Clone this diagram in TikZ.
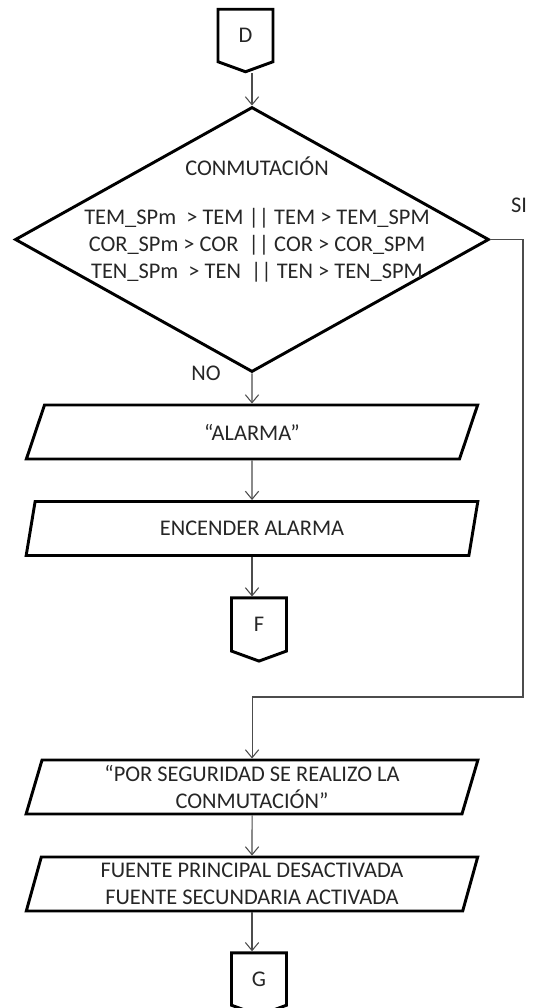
\documentclass[tikz,border=0pt]{standalone}
\usepackage{fontspec}
\setmainfont{Carlito}
\usetikzlibrary{shapes.geometric,shapes.symbols,arrows.meta}

\begin{document}
\begin{tikzpicture}[x=0.75pt,y=-0.75pt,
  font=\fontsize{16.8}{20.25}\selectfont,text=black!85,
  conn/.style={signal,signal to=south,signal from=nowhere,signal pointer angle=140,
    draw,line width=2.2pt,minimum width=55*0.75pt,minimum height=55*0.75pt,inner sep=0pt},
  decision/.style={diamond,draw,line width=2.2pt,minimum width=474*0.75pt,
    minimum height=265*0.75pt,inner sep=0pt},
  io/.style={trapezium,trapezium left angle=75.5,trapezium right angle=104.5,
    trapezium stretches=true,draw,line width=2.2pt,minimum width=452*0.75pt,
    minimum height=54*0.75pt,inner sep=0pt,align=center},
  flow/.style={draw=black!70,line width=0.8pt,-{Straight Barb[length=6pt,width=10pt]}}]
\useasboundingbox (0,0) rectangle (535,1008);

\node[conn] (D) at (245.5,35.5) {D};
\node[decision] (cond) at (252,239.5) {};
\node[align=center] (condtxt) at (257,219) {CONMUTACIÓN\\[16.5pt]
  TEM\_SPm~ > TEM || TEM > TEM\_SPM\\
  COR\_SPm > COR~ || COR > COR\_SPM\\
  TEN\_SPm~ > TEN~ || TEN > TEN\_SPM};
\node (si) at (519,205) {SI};
\node (no) at (206,373) {NO};
\node[io] (alarma) at (252,432) {“ALARMA”};
\node[io] (encender) at (252,528.5) {ENCENDER ALARMA};
\node[conn] (F) at (259,624.5) {F};
\node[io] (aviso) at (252,787) {“POR SEGURIDAD SE REALIZO LA\\CONMUTACIÓN”};
\node[io] (fuente) at (252,884) {FUENTE PRINCIPAL DESACTIVADA\\FUENTE SECUNDARIA ACTIVADA};
\node[conn] (G) at (259,979) {G};
\coordinate (siturn) at (523,697);

\draw[flow] (D.south -| cond.north) -- (cond.north);
\draw[flow] (cond.south) -- (alarma.north);
\draw[flow] (alarma.south) -- (encender.north);
\draw[flow] (encender.south) -- (encender.south |- F.north);
\draw[flow] (cond.east) -| (siturn) -- (siturn -| aviso.north) -- (aviso.north);
\draw[flow] (aviso.south) -- (fuente.north);
\draw[flow] (fuente.south) -- (fuente.south |- G.north);
\end{tikzpicture}
\end{document}
